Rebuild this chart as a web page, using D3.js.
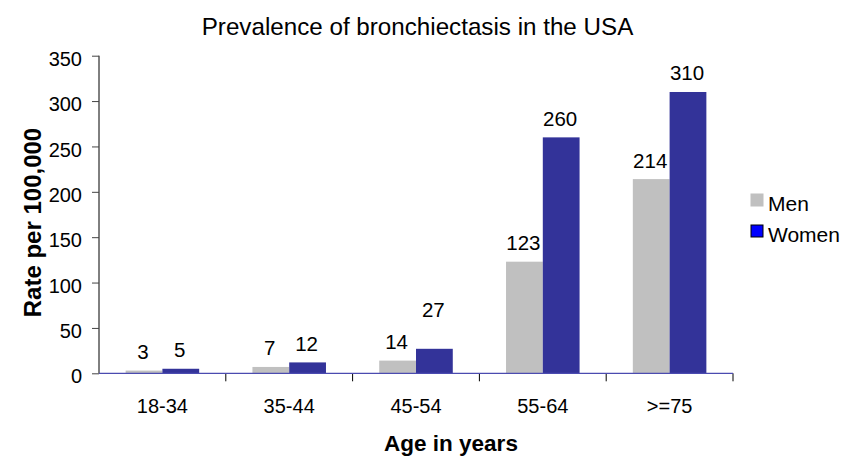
<!DOCTYPE html>
<html>
<head>
<meta charset="utf-8">
<script src="https://cdn.jsdelivr.net/npm/d3@7"></script>
<style>
  html, body { margin: 0; padding: 0; background: #fff; }
  text { font-family: "Liberation Sans", Arial, Helvetica, sans-serif; fill: #000; }
</style>
</head>
<body>
<svg id="chart" width="845" height="456"></svg>
<script>
// ---- data ----
const categories = ["18-34", "35-44", "45-54", "55-64", ">=75"];
const seriesNames = ["Men", "Women"];
const menValues = [3, 7, 14, 123, 214];
const womenValues = [5, 12, 27, 260, 310];
const yTicks = [0, 50, 100, 150, 200, 250, 300, 350];
const titleText = "Prevalence of bronchiectasis in the USA";
const xTitle = "Age in years";
const yTitle = "Rate per 100,000";

// ---- styling / layout ----
const W = 845, H = 456;
const plot = { left: 99, right: 733, top: 55.7, bottom: 373.3 };
const barColors = { Men: "#c0c0c0", Women: "#333399" };
const legendColors = { Men: "#c0c0c0", Women: "#0000ff" };
const labelLiftDefault = 11.5;
const labelLiftSpecial = { "45-54|Women": 32 };

const svg = d3.select("#chart");
const table = categories.map((c, i) => ({ cat: c, Men: menValues[i], Women: womenValues[i] }));

const x = d3.scaleBand().domain(categories)
  .range([plot.left, plot.right]).paddingInner(0.42).paddingOuter(0.21);
const xs = d3.scaleBand().domain(seriesNames).range([0, x.bandwidth()]).padding(0);
const y = d3.scaleLinear().domain([0, 350]).range([plot.bottom, plot.top]);

// title
svg.append("text").attr("x", 417.5).attr("y", 35).attr("text-anchor", "middle")
  .style("font-size", "24.2px").text(titleText);

// bars
const g = svg.append("g");
table.forEach(d => {
  seriesNames.forEach(s => {
    g.append("rect")
      .attr("x", x(d.cat) + xs(s))
      .attr("y", y(d[s]))
      .attr("width", xs.bandwidth())
      .attr("height", y(0) - y(d[s]))
      .attr("fill", barColors[s]);
    const lift = labelLiftSpecial[d.cat + "|" + s] ?? labelLiftDefault;
    g.append("text")
      .attr("x", x(d.cat) + xs(s) + xs.bandwidth() / 2 - 1)
      .attr("y", y(d[s]) - lift)
      .attr("text-anchor", "middle")
      .style("font-size", "20.5px")
      .text(d[s]);
  });
});

// y axis
const yAxis = svg.append("g").attr("transform", `translate(${plot.left},0)`)
  .call(d3.axisLeft(y).tickValues(yTicks).tickSize(7).tickPadding(10).tickSizeOuter(0));
yAxis.select(".domain").attr("stroke", "#000").attr("d", `M0,${plot.top}V${plot.bottom}`);
yAxis.selectAll(".tick line").attr("stroke", "#444");
yAxis.selectAll(".tick text").style("font-size", "20px").attr("dy", "0.48em")
  .style("font-family", "'Liberation Sans', Arial, sans-serif").attr("fill", "#000");

// x axis labels
const xAxis = svg.append("g").attr("transform", `translate(0,${plot.bottom})`)
  .call(d3.axisBottom(x).tickSize(0).tickPadding(26));
xAxis.select(".domain").remove();
xAxis.selectAll(".tick text").style("font-size", "20px")
  .style("font-family", "'Liberation Sans', Arial, sans-serif").attr("fill", "#000");
// boundary ticks
const halfGap = (x.step() - x.bandwidth()) / 2;
const boundaries = categories.map(c => x(c) + x.bandwidth() + halfGap);
svg.append("g").selectAll("line").data(boundaries).join("line")
  .attr("x1", d => d).attr("x2", d => d)
  .attr("y1", plot.bottom).attr("y2", plot.bottom + 8)
  .attr("stroke", "#000").attr("stroke-width", 1);
svg.append("line").attr("x1", plot.left).attr("x2", plot.right)
  .attr("y1", plot.bottom).attr("y2", plot.bottom)
  .attr("stroke", "#4b4bb0").attr("stroke-width", 1.2);

// axis titles
svg.append("text").attr("x", 451).attr("y", 451).attr("text-anchor", "middle")
  .style("font-size", "22.5px").style("font-weight", "bold").text(xTitle);
svg.append("text").attr("transform", "translate(40.5,222.5) rotate(-90)")
  .attr("text-anchor", "middle").style("font-size", "24px").style("font-weight", "bold")
  .text(yTitle);

// legend
const legendY = [194, 225];
seriesNames.forEach((s, i) => {
  svg.append("rect").attr("x", 751).attr("y", legendY[i]).attr("width", 12).attr("height", 12)
    .attr("fill", legendColors[s])
    .attr("stroke", s === "Women" ? "#000" : legendColors[s]).attr("stroke-width", 1);
  svg.append("text").attr("x", 768).attr("y", legendY[i] + 16.5)
    .style("font-size", "21px").text(s);
});
</script>
</body>
</html>
